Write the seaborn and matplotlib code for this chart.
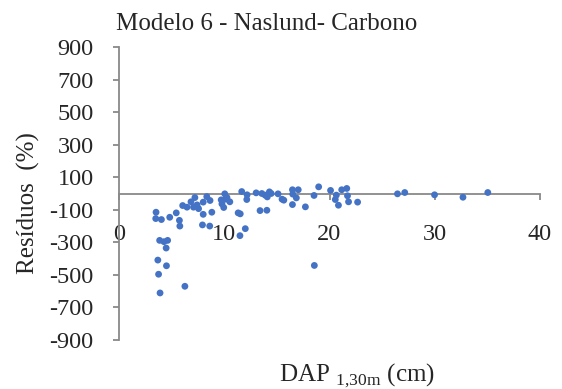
import matplotlib
matplotlib.use("Agg")
import matplotlib.pyplot as plt
import seaborn as sns
import pandas as pd

dap = [3.52, 3.49, 4.03, 4.82, 5.44, 5.74, 5.78, 3.86, 4.27, 4.62, 4.48, 3.69, 4.51, 3.76, 3.90, 6.26,
       6.05, 6.46, 6.84, 7.21, 7.08, 7.42, 7.56, 8.0, 7.93, 8.62, 8.82, 8.34, 8.0, 8.65,
       9.71, 9.78, 9.95, 10.05, 10.26, 10.53, 10.15,
       11.32, 11.52, 11.49, 12.0, 11.66, 12.17, 12.14,
       13.03, 13.40, 14.05, 13.57, 13.88, 14.09, 14.29, 14.46, 15.11, 15.49, 15.66,
       16.48, 16.51, 17.03, 16.85, 16.48, 17.71, 18.53, 18.97, 18.56,
       20.10, 20.65, 20.55, 20.85, 21.16, 21.64, 21.71, 21.81, 22.67,
       26.46, 27.15, 29.98, 32.68, 35.04]

residuos = [-115, -154, -160, -146, -119, -165, -200, -288, -296, -288, -335, -409, -444, -496, -611, -570,
            -74, -84, -51, -25, -84, -70, -93, -128, -193, -200, -115, -19, -53, -43,
            -39, -64, -86, -2, -25, -51, -35,
            -119, -125, -259, -216, 12, -8, -37,
            4, -105, -103, 0, -10, -21, 10, 0, -2, -35, -41,
            23, -4, 23, -27, -68, -82, -12, 41, -442,
            19, -10, -37, -72, 23, 31, -14, -51, -53,
            -2, 6, -8, -23, 6]

x_ticks = [0, 10, 20, 30, 40]
y_ticks = [-900, -700, -500, -300, -100, 100, 300, 500, 700, 900]

title = "Modelo 6 - Naslund- Carbono"
ylabel = "Resíduos  (%)"

sns.set_style("white")
plt.rcParams['font.family'] = ['Liberation Serif', 'DejaVu Serif']
plt.rcParams['mathtext.fontset'] = 'custom'
plt.rcParams['mathtext.rm'] = 'Liberation Serif'

df = pd.DataFrame({"dap": dap, "res": residuos})

fig = plt.figure(figsize=(5.62, 3.89), dpi=100)
ax = fig.add_axes([119/562, 1 - 340/389, 421/562, 293/389])

sns.scatterplot(data=df, x="dap", y="res", ax=ax, color="#4472C4",
                s=24, edgecolor="none", legend=False, zorder=3)

ax.set_xlim(0, 40)
ax.set_ylim(-900, 900)
ax.set_xticks(x_ticks)
ax.set_yticks(y_ticks)
ax.set_xticklabels([str(v) for v in x_ticks])
ax.set_yticklabels([str(v) for v in y_ticks])

grey = "#898989"
for s in ["top", "right"]:
    ax.spines[s].set_visible(False)
ax.spines["bottom"].set_position(("data", 0))
ax.spines["bottom"].set_color(grey)
ax.spines["left"].set_color(grey)
ax.spines["bottom"].set_linewidth(1.3)
ax.spines["left"].set_linewidth(1.3)

ax.tick_params(axis="y", direction="out", length=4.3, width=1.3, color=grey,
               labelsize=17.5, pad=14, left=True)
ax.tick_params(axis="x", direction="out", length=4, width=1.3, color=grey,
               labelsize=17.5, pad=18, bottom=True)

ax.set_xlabel("")
ax.set_ylabel("")

fig.text(116/562, 1 - 29.5/389, title, ha="left", va="baseline", fontsize=18)
fig.text(28/562, 1 - 203/389, ylabel, ha="center", va="center", rotation=90, fontsize=18)
fig.text(279/562, 1 - 381/389, r"DAP $_{\mathregular{1{,}30m}}$ (cm)", ha="left", va="baseline", fontsize=18)

fig.savefig("out.png", dpi=100)
